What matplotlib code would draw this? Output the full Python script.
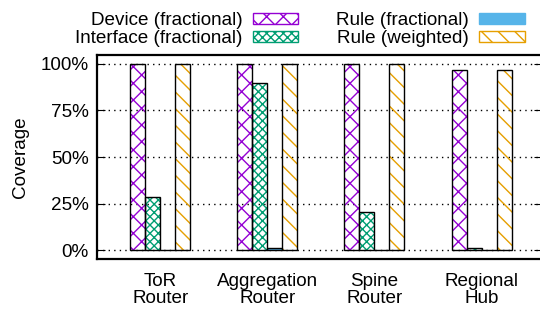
import numpy as np
import matplotlib
matplotlib.use("Agg")
import matplotlib.pyplot as plt
from matplotlib.patches import Patch

plt.rcParams["font.family"] = ["Liberation Sans", "DejaVu Sans"]
plt.rcParams["hatch.linewidth"] = 1.0

groups = ["ToR\nRouter", "Aggregation\nRouter", "Spine\nRouter", "Regional\nHub"]
device_frac = [100, 100, 100, 96.6]
interface_frac = [28.5, 89.6, 20.2, 1.0]
rule_frac = [0.0, 1.2, 0.0, 0.0]
rule_weighted = [100, 100, 100, 96.6]

series = [
    ("Device (fractional)", device_frac, "#9400D3", "xx", "none"),
    ("Interface (fractional)", interface_frac, "#009E73", "xxxx", "none"),
    ("Rule (fractional)", rule_frac, "#56B4E9", "", "#56B4E9"),
    ("Rule (weighted)", rule_weighted, "#E69F00", "\\\\", "none"),
]

fig = plt.figure(figsize=(5.4, 3.12), dpi=100)
ax = fig.add_axes([97 / 540, 53 / 312, 444.5 / 540, 204 / 312])

x = np.arange(len(groups))
width = 0.14
handles = []
for i, (label, vals, color, hatch, face) in enumerate(series):
    pos = x + (i - 1.5) * width
    vals = np.array(vals) / 100
    ax.bar(pos, vals, width, color=face, edgecolor=color, hatch=hatch, linewidth=0, zorder=2)
    ax.bar(pos, vals, width, fill=False, edgecolor="black", linewidth=1.0, zorder=3)
    handles.append(Patch(facecolor=face, edgecolor=color, hatch=hatch, linewidth=1.0, label=label))

ax.set_xlim(-0.59, 3.56)
ax.set_ylim(-0.048, 1.048)
ax.set_yticks([0, 0.25, 0.5, 0.75, 1.0])
ax.set_yticklabels(["0%", "25%", "50%", "75%", "100%"])
ax.set_xticks(x)
ax.set_xticklabels(groups, fontsize=13.6, linespacing=1.0)
ax.tick_params(axis="x", length=0, pad=10)
ax.tick_params(axis="y", direction="in", length=6, right=True, labelsize=13.6, pad=6)
ax.set_ylabel("Coverage", fontsize=13.6, labelpad=8)
ax.yaxis.grid(True, linestyle=(0, (1, 3)), color="black", linewidth=1.0, zorder=0)
ax.set_axisbelow(True)
for s in ax.spines.values():
    s.set_linewidth(1.6)

fig.legend(handles=handles, ncol=2, markerfirst=False,
           loc="upper right", bbox_to_anchor=(534 / 540, 1 - 3 / 312),
           frameon=False, fontsize=13.6, handlelength=2.4, handleheight=0.55,
           handletextpad=0.55, columnspacing=2.0, labelspacing=0.05, borderpad=0)

fig.savefig("out.png", dpi=100)
